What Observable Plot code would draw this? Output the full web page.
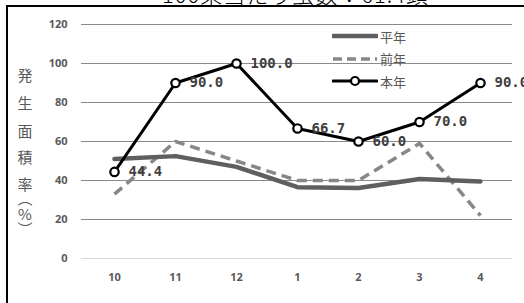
<!DOCTYPE html>
<html>
<head>
<meta charset="utf-8">
<script src="https://cdn.jsdelivr.net/npm/d3@7"></script>
<script src="https://cdn.jsdelivr.net/npm/@observablehq/plot@0.6"></script>
<style>
  html, body { margin: 0; padding: 0; background: #fff; overflow: hidden; }
  #wrap { position: relative; width: 524px; height: 303px; overflow: hidden; }
  #frame { position: absolute; left: 6px; top: 5px; width: 700px; height: 500px; border: 2px solid #000; }
  #title { position: absolute; left: 162px; top: -23px; font-family: "Noto Sans CJK JP", sans-serif; font-weight: 300; font-size: 22px; color: #000; white-space: nowrap; letter-spacing: 1px; }
  #chart { position: absolute; left: 0; top: 0; }
  .ych { position: absolute; left: 17px; width: 16px; text-align: center; font-family: "Noto Sans CJK JP", sans-serif; font-size: 15px; line-height: 16px; color: #595959; }
  #legend { position: absolute; left: 332px; top: 25px; font-family: "Noto Sans CJK JP", sans-serif; font-size: 13px; color: #595959; }
  #legend .row { display: flex; align-items: center; height: 22.5px; }
  #legend svg { display: block; margin-right: 2px; }
</style>
</head>
<body>
<div id="wrap">
  <div id="frame"></div>
  <div id="title"></div>
  <div id="chart"></div>
  <div id="ytitle"></div>
  <div id="legend"></div>
</div>
<script>
const months = ["10", "11", "12", "1", "2", "3", "4"];
const normalYear = [51, 52.5, 47, 36.6, 36.2, 40.8, 39.5];
const lastYear = [33, 60, 50, 40, 40, 59, 22];
const thisYear = [44.4, 90.0, 100.0, 66.7, 60.0, 70.0, 90.0];
const yTicks = [0, 20, 40, 60, 80, 100, 120];
const seriesNames = ["平年", "前年", "本年"];
const titleText = "100果当たり虫数：61.4頭";
const yTitleChars = ["発", "生", "面", "積", "率", "︵", "%", "︶"];

const rows = months.map((m, i) => ({month: m, normal: normalYear[i], last: lastYear[i], current: thisYear[i]}));

const chart = Plot.plot({
  width: 524,
  height: 303,
  marginLeft: 81,
  marginRight: 12,
  marginTop: 24,
  marginBottom: 45,
  style: {fontFamily: "'Open Sans', sans-serif", fontSize: "11px", fontWeight: "bold", color: "#595959", background: "transparent", overflow: "visible"},
  x: {type: "point", domain: months, padding: 0.5, label: null, tickSize: 0, tickPadding: 15},
  y: {domain: [0, 120], ticks: yTicks, label: null, tickSize: 0, tickPadding: 14},
  marks: [
    Plot.ruleY(yTicks.filter(v => v > 0), {stroke: "#8a8a8a", strokeWidth: 1.2}),
    Plot.ruleY([0], {stroke: "#d9d9d9", strokeWidth: 1.2}),
    Plot.line(rows, {x: "month", y: "last", stroke: "#878787", strokeWidth: 3.5, strokeDasharray: "10,6", strokeLinecap: "butt"}),
    Plot.line(rows, {x: "month", y: "normal", stroke: "#5f5f5f", strokeWidth: 4.5}),
    Plot.line(rows, {x: "month", y: "current", stroke: "#000", strokeWidth: 3}),
    Plot.dot(rows, {x: "month", y: "current", r: 4.2, fill: "#fff", stroke: "#000", strokeWidth: 2.2}),
    Plot.text(rows, {x: "month", y: "current", text: d => d.current.toFixed(1), dx: 14, textAnchor: "start", fill: "#404040", fontSize: 14, fontWeight: "bold", fontFamily: "'DejaVu Sans Mono', monospace", style: "letter-spacing:1.5px"})
  ]
});
document.getElementById("chart").appendChild(chart);

document.getElementById("title").textContent = titleText;

// vertical axis title, one character per line
const yCenters = [75, 103, 131, 157, 184, 198, 214, 229];
const ytitle = document.getElementById("ytitle");
yTitleChars.forEach((c, i) => {
  const s = document.createElement("span");
  s.className = "ych";
  s.textContent = c;
  s.style.top = (yCenters[i] - 8) + "px";
  ytitle.appendChild(s);
});

// legend
const legend = document.getElementById("legend");
const styles = [
  {stroke: "#5f5f5f", width: 4.5, dash: null, dot: false},
  {stroke: "#878787", width: 3.5, dash: "9,5", dot: false},
  {stroke: "#000", width: 3, dash: null, dot: true}
];
seriesNames.forEach((name, i) => {
  const s = styles[i];
  const row = document.createElement("div");
  row.className = "row";
  const svg = d3.create("svg").attr("width", 46).attr("height", 12);
  svg.append("line").attr("x1", 1).attr("x2", 45).attr("y1", 6).attr("y2", 6)
    .attr("stroke", s.stroke).attr("stroke-width", s.width)
    .attr("stroke-linecap", s.dash ? "butt" : "round")
    .attr("stroke-dasharray", s.dash);
  if (s.dot) svg.append("circle").attr("cx", 23).attr("cy", 6).attr("r", 4).attr("fill", "#fff").attr("stroke", "#000").attr("stroke-width", 2.2);
  row.appendChild(svg.node());
  const t = document.createElement("span");
  t.textContent = name;
  row.appendChild(t);
  legend.appendChild(row);
});
</script>
</body>
</html>
